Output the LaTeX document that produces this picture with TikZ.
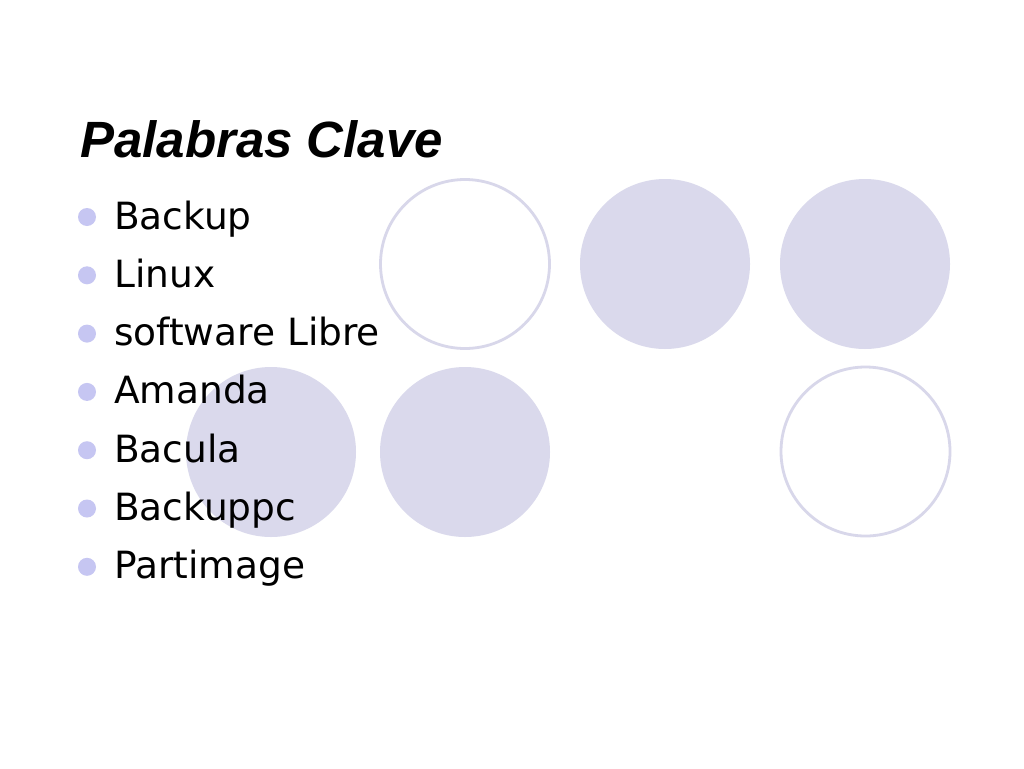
\documentclass[tikz,border=0pt]{standalone}
\usepackage{fontspec}
\setmainfont{DejaVu Sans}
\newfontfamily\titlefont{Liberation Sans}
\definecolor{circfill}{HTML}{DAD9EC}
\definecolor{circline}{HTML}{D8D7EA}
\definecolor{bulletc}{HTML}{C6C6F2}
\begin{document}
\begin{tikzpicture}[x=1pt,y=-1pt,
  filledcirc/.style={circle,fill=circfill,draw=none,minimum size=170pt,inner sep=0pt},
  opencirc/.style={circle,fill=none,draw=circline,line width=2.8pt,minimum size=169pt,inner sep=0pt},
  item/.style={anchor=base west,inner sep=0pt,font=\fontsize{37.5}{40}\selectfont},
  bul/.style={circle,fill=bulletc,minimum size=18pt,inner sep=0pt}]
\fill[white] (0,0) rectangle (1024,768);
\useasboundingbox (0,0) rectangle (1024,768);
% circles
\node[opencirc] (c1) at (465,264) {};
\node[filledcirc] (c2) at (665,264) {};
\node[filledcirc] (c3) at (865,264) {};
\node[filledcirc] (c4) at (271,452) {};
\node[filledcirc] (c5) at (465,452) {};
\node[opencirc] (c6) at (865.5,451.5) {};
% title
\node[anchor=base west,inner sep=0pt,font=\titlefont\bfseries\itshape\fontsize{51}{55}\selectfont] (title) at (80,157) {Palabras Clave};
% items
\foreach \t [count=\i] in {Backup,Linux,software Libre,Amanda,Bacula,Backuppc,Partimage}{
  \pgfmathsetmacro{\yy}{229+(\i-1)*58.3}
  \node[item] (t\i) at (114,\yy) {\t};
  \node[bul] (b\i) at (87,\yy-12) {};
}
\end{tikzpicture}
\end{document}
